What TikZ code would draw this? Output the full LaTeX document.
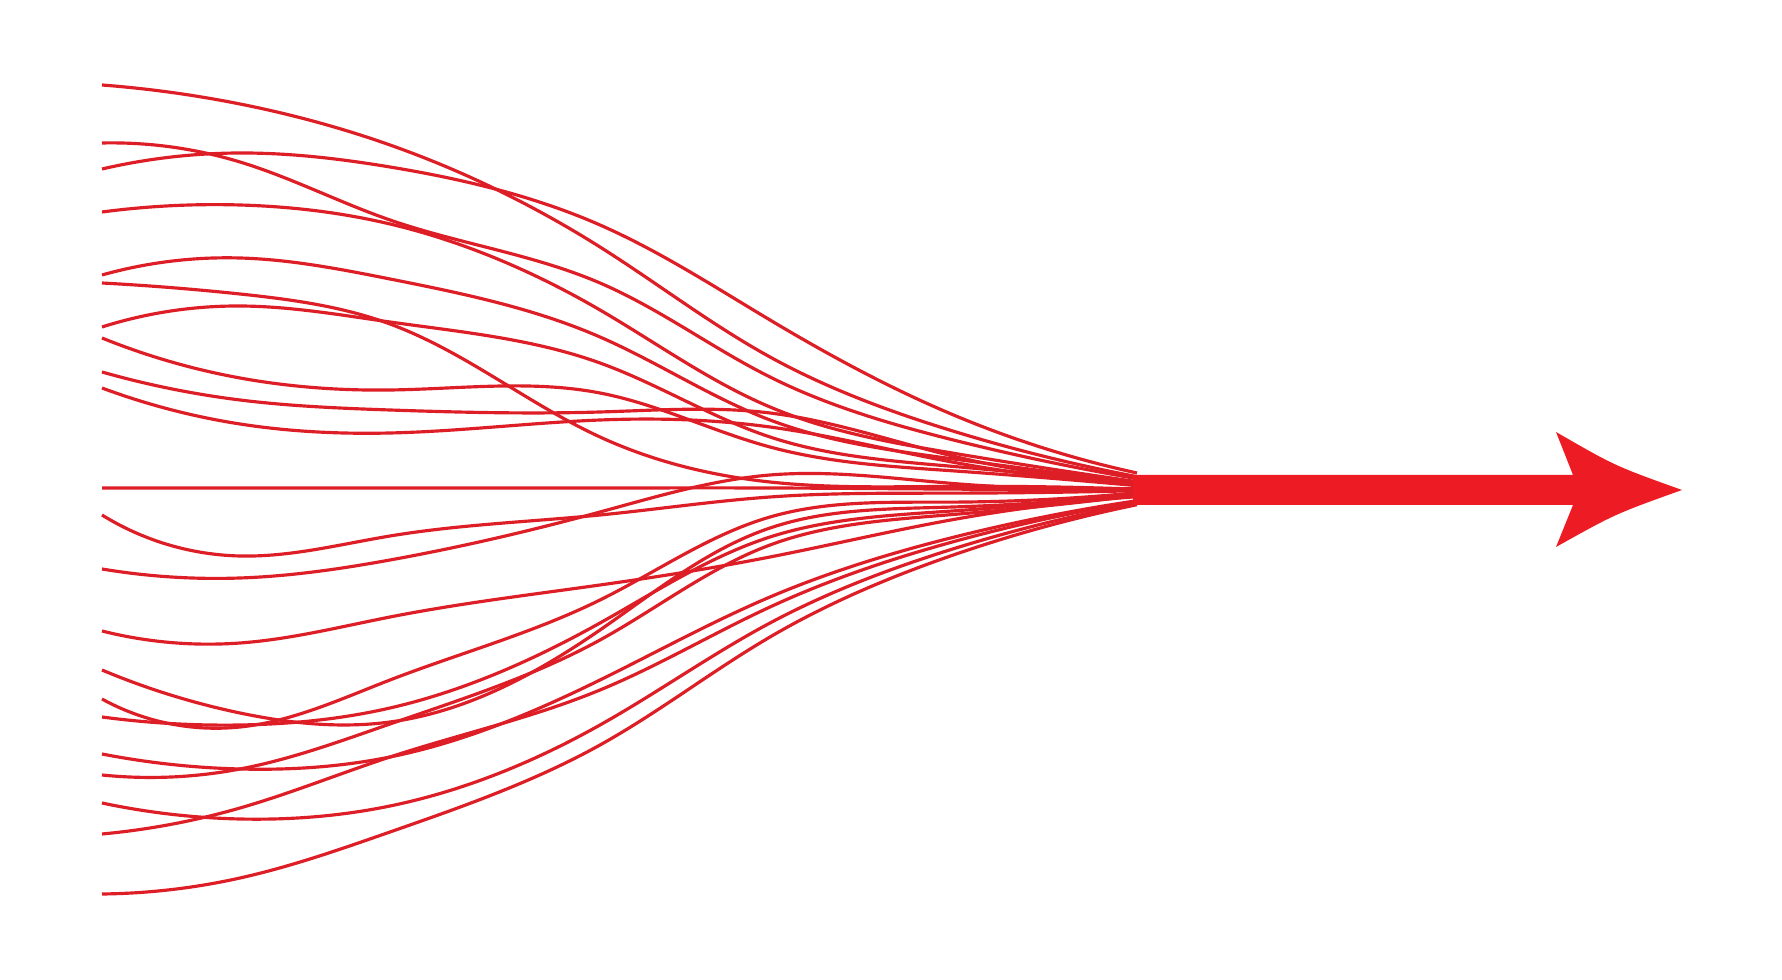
\documentclass[tikz,border=0pt]{standalone}
\usepackage{tikz}
\usepackage[dvipsnames]{xcolor}
\usetikzlibrary{hobby}
\definecolor{arrowred}{RGB}{237,28,36}
\definecolor{strandred}{RGB}{222,30,38}

\begin{document}
\begin{tikzpicture}[x=0.01cm,y=-0.01cm,strand/.style={strandred,line width=0.9pt,use Hobby shortcut}]
                \useasboundingbox (0,0) rectangle (1782,980);
                \fill[white] (0,0) rectangle (1782,980);
                \foreach \a/\b/\c/\e/\d in {85/104/145/247/357,143/162/220/283/377,169/153/167/225/320,212/205/224/310/407,275/258/279/337/420,283/294/324/437/482,327/306/322/363/437,338/378/390/393/447,372/400/410/412/413,388/424/433/420/427,488/488/488/488/488,515/556/536/515/497,569/578/560/512/475,631/643/617/585/557,670/713/722/630/528,699/727/680/600/517,717/725/708/623/537,754/769/757/680/597,775/769/724/640/545,803/819/806/725/623,834/808/757/690/607,894/878/832/745/637} {
                    \draw[strand] (102,\a) .. (240,\b) .. (390,\c) .. (600,\e) .. (770,\d) .. (950,{490+0.45*(\d-490)}) .. (1137,{490+0.1*(\d-490)});
                }
                \fill[arrowred] (1133,475) -- (1573,475) -- (1556,432) .. controls (1615,466) .. (1682,490) .. controls (1615,514) .. (1556,547) -- (1573,505) -- (1133,505) -- cycle;
            \end{tikzpicture}
\end{document}
